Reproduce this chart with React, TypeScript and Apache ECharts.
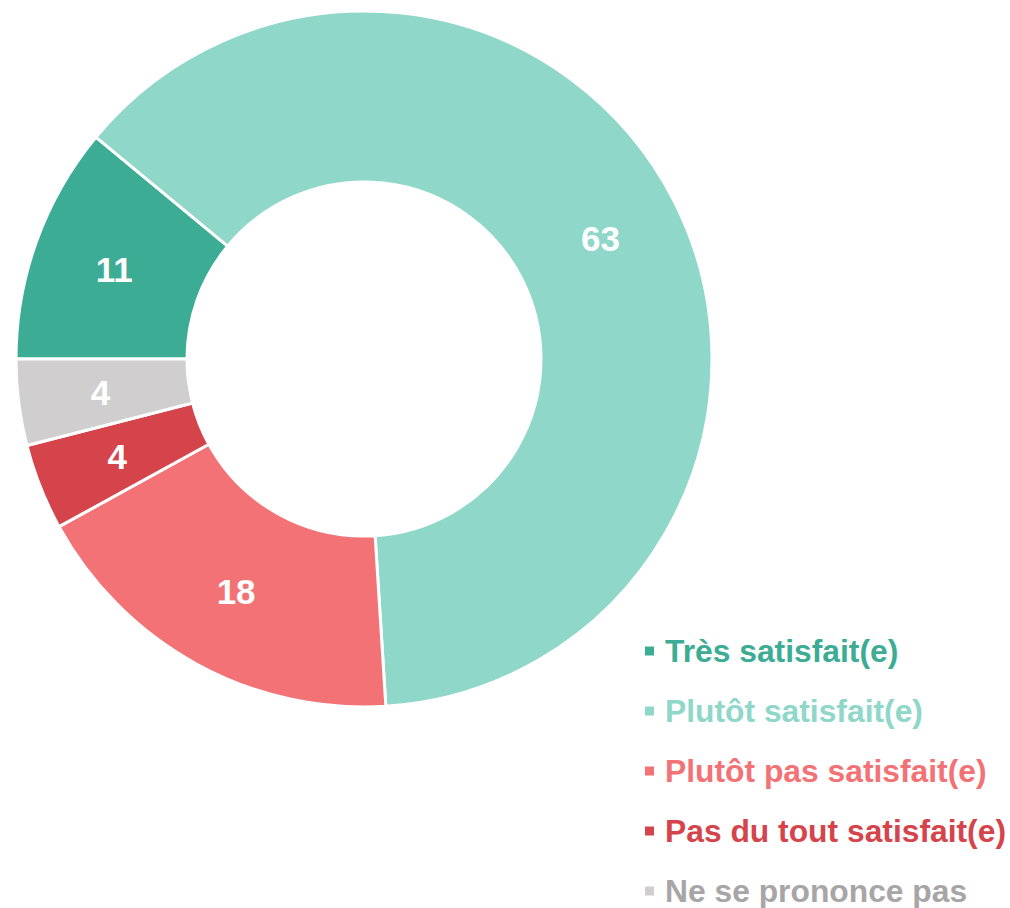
import React, { useEffect, useRef } from "react";
import * as echarts from "echarts";

const categories = [
  "Très satisfait(e)",
  "Plutôt satisfait(e)",
  "Plutôt pas satisfait(e)",
  "Pas du tout satisfait(e)",
  "Ne se prononce pas",
];
const values = [11, 63, 18, 4, 4];
const sliceColors = ["#3dac94", "#8fd7c8", "#f37275", "#d6444b", "#d0cecf"];
const legendTextColors = ["#3dac94", "#8fd7c8", "#f37275", "#d6444b", "#a8a5a6"];

export default function App() {
  const ref = useRef<HTMLDivElement>(null);
  useEffect(() => {
    if (!ref.current) return;
    const chart = echarts.init(ref.current, undefined, { renderer: "svg" });
    chart.setOption({
      animation: false,
      legend: {
        orient: "vertical",
        left: 643,
        top: 635,
        padding: 0,
        itemWidth: 11,
        itemHeight: 11,
        itemGap: 28,
        icon: "rect",
        selectedMode: false,
        textStyle: {
          fontSize: 31.8,
          fontWeight: "bold",
          fontFamily: "Liberation Sans, Arial, sans-serif",
          lineHeight: 32,
          padding: [0, 0, 0, 5],
        },
        data: categories.map((c, i) => ({
          name: c,
          textStyle: { color: legendTextColors[i] },
        })),
      },
      series: [
        {
          type: "pie",
          center: [364, 359],
          radius: [177, 348],
          startAngle: 180,
          clockwise: true,
          avoidLabelOverlap: false,
          label: {
            show: true,
            position: "inside",
            formatter: "{c}",
            color: "#ffffff",
            fontSize: 35,
            fontWeight: "bold",
            fontFamily: "Liberation Sans, Arial, sans-serif",
          },
          labelLine: { show: false },
          itemStyle: { borderColor: "#ffffff", borderWidth: 3 },
          emphasis: { disabled: true },
          data: categories.map((c, i) => ({
            name: c,
            value: values[i],
            itemStyle: { color: sliceColors[i] },
          })),
        },
      ],
    });
    return () => chart.dispose();
  }, []);
  return (
    <div
      ref={ref}
      style={{ position: "fixed", left: 0, top: 0, width: 1010, height: 908, background: "#ffffff" }}
    />
  );
}
